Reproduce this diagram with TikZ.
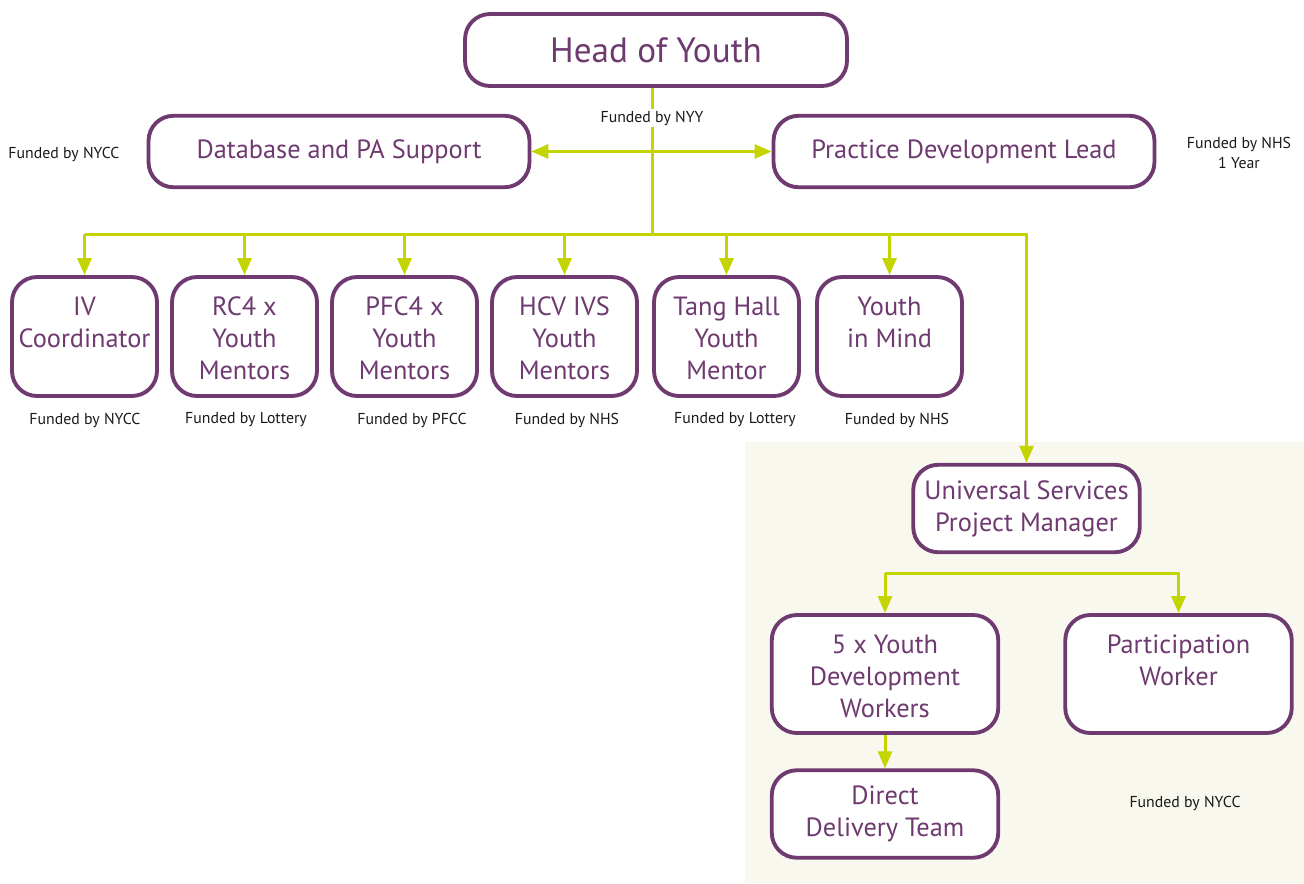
\documentclass[tikz,border=0pt]{standalone}
\usepackage{fontspec}
\setmainfont{PT Sans}
\usetikzlibrary{arrows.meta}
\definecolor{ymplum}{HTML}{6E3A6F}
\definecolor{ymlime}{HTML}{C3D400}
\definecolor{ympanel}{HTML}{F8F8EE}

\begin{document}
\begin{tikzpicture}[x=0.02cm,y=-0.02cm,
  role/.style={draw=ymplum,line width=2.2pt,fill=white,rounded corners=0.5cm,align=center,
    text=ymplum,inner sep=0pt,font=\fontsize{15}{18.1}\selectfont},
  wide/.style={role,minimum width=7.62cm,minimum height=1.43cm},
  post/.style={role,minimum width=2.9cm,text height=2.04cm,text depth=0.34cm},
  team/.style={role,minimum width=4.53cm,text height=2.04cm,text depth=0.32cm},
  short/.style={text height=1.40cm,text depth=0.98cm},
  unit/.style={role,minimum width=4.53cm,minimum height=1.75cm},
  fund/.style={font=\fontsize{9}{11}\selectfont,align=center,text=black!90,inner sep=1pt},
  link/.style={ymlime,line width=1.7pt},
  feed/.style={link,-{Triangle[length=3.4mm,width=2.8mm]}}]
  \useasboundingbox (0,0) rectangle (1304,883);
  \fill[ympanel] (745,442) rectangle (1304,883);

  \node[role,minimum width=7.64cm,minimum height=1.44cm,font=\fontsize{20}{24}\selectfont] (head) at (656,50) {Head of Youth};
  \node[wide] (db)  at (339,151.5) {Database and PA Support};
  \node[wide] (pdl) at (964,151.5) {Practice Development Lead};

  \node[post,short] (iv) at (84.5,336.5) {IV\\Coordinator};
  \node[post] (rc)   at (244.5,336.5) {RC4 x\\Youth\\Mentors};
  \node[post] (pfc)  at (404.5,336.5) {PFC4 x\\Youth\\Mentors};
  \node[post] (hcv)  at (564.5,336.5) {HCV IVS\\Youth\\Mentors};
  \node[post] (tang) at (726.5,336.5) {Tang Hall\\Youth\\Mentor};
  \node[post,short] (mind) at (889.5,336.5) {Youth\\in Mind};

  \node[unit] (uspm) at (1026.5,508.5) {Universal Services\\Project Manager};
  \node[team] (ydw)  at (885,674)      {5 x Youth\\Development\\Workers};
  \node[team,short,text depth=0.96cm] (part) at (1178.5,674) {Participation\\Worker};
  \node[unit] (ddt)  at (885,814)      {Direct\\Delivery Team};

  \coordinate (hub) at (652,234);
  \coordinate (split) at (1026,573);

  \draw[link] (hub |- head.south) -- (hub);
  \draw[link,{Triangle[length=3.4mm,width=2.8mm]}-{Triangle[length=3.4mm,width=2.8mm]}] (db) -- (pdl);
  \draw[feed] (iv.north |- hub) -- (hub -| uspm.north) -- (uspm.north);
  \foreach \n in {iv,rc,pfc,hcv,tang,mind}
    \draw[feed] (\n.north |- hub) -- (\n.north);
  \draw[feed] (split -| ydw.north) -- (split -| part.north) -- (part.north);
  \draw[feed] (split -| ydw.north) -- (ydw.north);
  \draw[feed] (ydw) -- (ddt);

  \node[fund,fill=white] (nyy) at (652,118) {Funded by NYY};
  \node[fund] (fdb)  at (64,154)   {Funded by NYCC};
  \node[fund] (fpdl) at (1239,153) {Funded by NHS\\1 Year};
  \node[fund] (fiv)   at (85,420)  {Funded by NYCC};
  \node[fund] (frc)   at (246,420) {Funded by Lottery};
  \node[fund] (fpfc)  at (412,420) {Funded by PFCC};
  \node[fund] (fhcv)  at (567,420) {Funded by NHS};
  \node[fund] (ftang) at (735,420) {Funded by Lottery};
  \node[fund] (fmind) at (897,420) {Funded by NHS};
  \node[fund] (fus)   at (1185,803) {Funded by NYCC};
\end{tikzpicture}
\end{document}
